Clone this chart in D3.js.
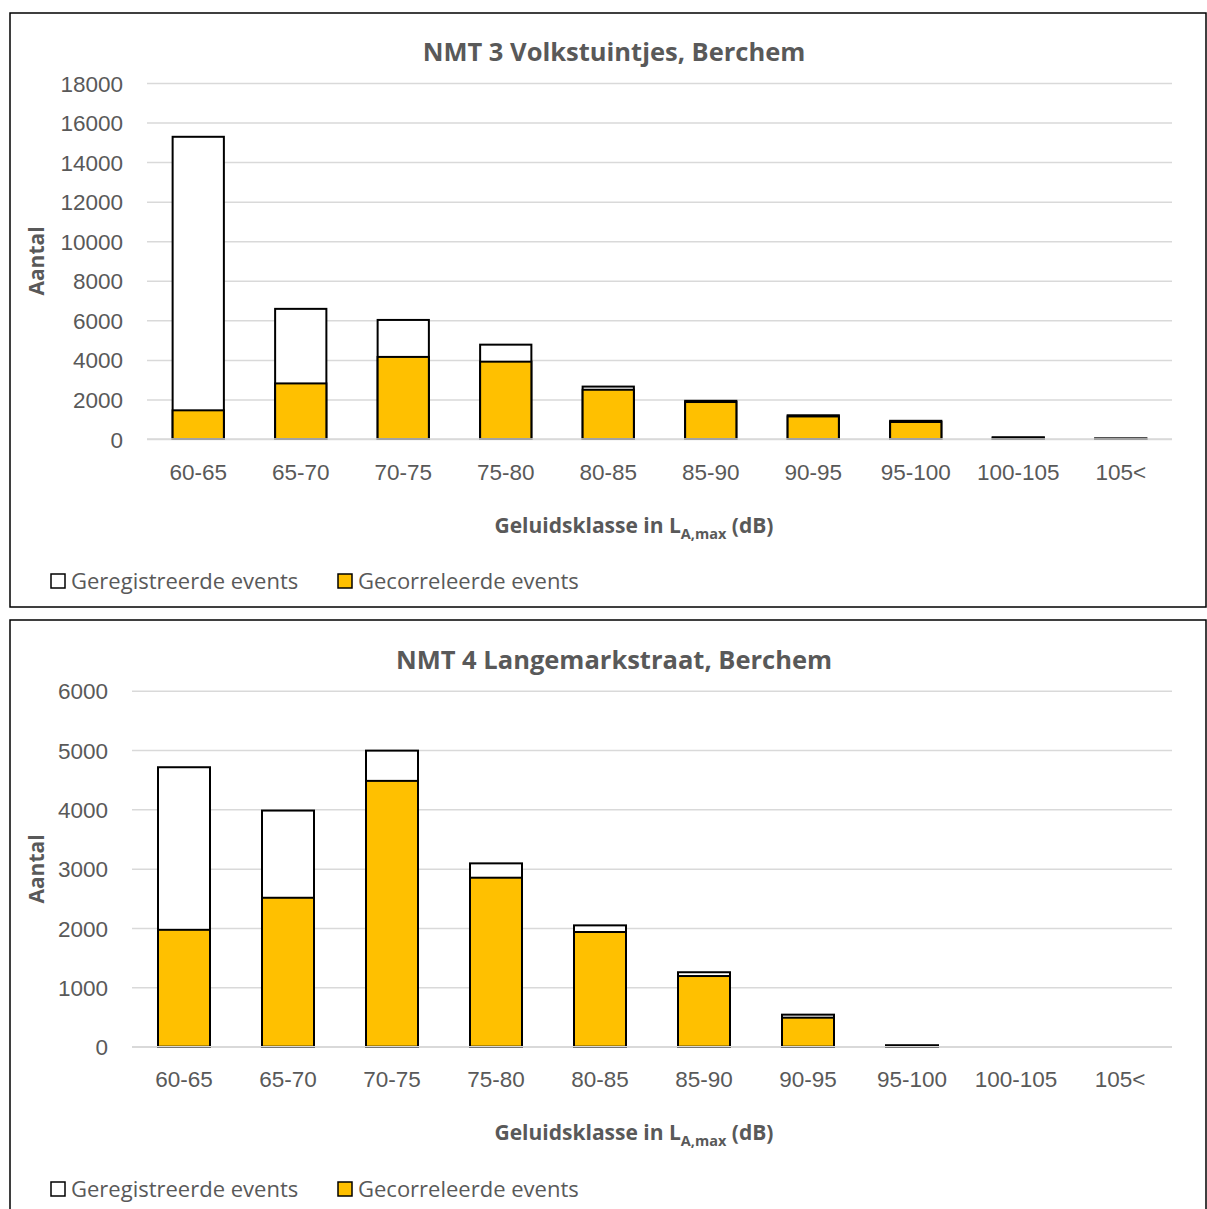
<!DOCTYPE html>
<html>
<head>
<meta charset="utf-8">
<script src="https://cdn.jsdelivr.net/npm/d3@7"></script>
<style>
  html, body { margin: 0; padding: 0; background: #fff; }
  svg { display: block; font-family: "Open Sans", sans-serif; }
</style>
</head>
<body>
<svg id="chart" width="1207" height="1209"></svg>
<script>
const categories = ["60-65","65-70","70-75","75-80","80-85","85-90","90-95","95-100","100-105","105<"];

const nmt3Title = "NMT 3 Volkstuintjes, Berchem";
const nmt3Registered = [15280, 6580, 6020, 4770, 2650, 1930, 1200, 920, 90, 30];
const nmt3Correlated = [1450, 2810, 4150, 3910, 2490, 1870, 1140, 860, 30, 10];
const nmt3Ticks = [0, 2000, 4000, 6000, 8000, 10000, 12000, 14000, 16000, 18000];

const nmt4Title = "NMT 4 Langemarkstraat, Berchem";
const nmt4Registered = [4710, 3980, 4990, 3090, 2045, 1255, 540, 25, 0, 0];
const nmt4Correlated = [1970, 2510, 4480, 2848, 1933, 1191, 489, 8, 0, 0];
const nmt4Ticks = [0, 1000, 2000, 3000, 4000, 5000, 6000];

const seriesNames = ["Geregistreerde events", "Gecorreleerde events"];
const seriesColors = ["#ffffff", "#ffc000"];

const svg = d3.select("#chart");
const textColor = "#595959";
const gridColor = "#d9d9d9";

function panel(cfg) {
  const g = svg.append("g");
  g.append("rect")
    .attr("x", cfg.frame[0]).attr("y", cfg.frame[1])
    .attr("width", cfg.frame[2]).attr("height", cfg.frame[3])
    .attr("fill", "#fff").attr("stroke", "#000").attr("stroke-width", 1.5);

  const x = d3.scaleBand().domain(categories).range([cfg.left, cfg.right]).paddingInner(0.5).paddingOuter(0.25);
  const y = d3.scaleLinear().domain([0, d3.max(cfg.ticks)]).range([cfg.bottom, cfg.top]);

  const yAxis = d3.axisLeft(y).tickValues(cfg.ticks).tickSize(-(cfg.right - cfg.left)).tickPadding(24).tickFormat(d3.format("d"));
  const ya = g.append("g").attr("transform", `translate(${cfg.left},0)`).call(yAxis);
  ya.select(".domain").remove();
  ya.selectAll(".tick line").attr("stroke", gridColor).attr("stroke-width", 1.5);
  ya.selectAll(".tick text").attr("fill", textColor).attr("font-size", 22.5).attr("x", cfg.yLabelX - cfg.left).attr("dy", "0.36em");

  const bars = g.append("g");
  bars.selectAll("rect.reg").data(cfg.registered).join("rect")
    .attr("class", "reg")
    .attr("x", (d, i) => x(categories[i]))
    .attr("width", x.bandwidth())
    .attr("y", d => y(d))
    .attr("height", d => y(0) - y(d))
    .attr("fill", seriesColors[0]).attr("stroke", "#000").attr("stroke-width", 2)
    .attr("display", d => d > 0 ? null : "none");
  bars.selectAll("rect.cor").data(cfg.correlated).join("rect")
    .attr("class", "cor")
    .attr("x", (d, i) => x(categories[i]))
    .attr("width", x.bandwidth())
    .attr("y", d => y(d))
    .attr("height", d => y(0) - y(d))
    .attr("fill", seriesColors[1]).attr("stroke", "#000").attr("stroke-width", 2)
    .attr("display", d => d > 0 ? null : "none");

  const xAxis = d3.axisBottom(x).tickSize(0).tickPadding(26);
  const xa = g.append("g").attr("transform", `translate(0,${cfg.bottom})`).call(xAxis);
  xa.select(".domain").attr("stroke", gridColor).attr("stroke-width", 1.5)
    .attr("d", `M${cfg.left},0H${cfg.right}`);
  xa.selectAll(".tick text").attr("fill", textColor).attr("font-size", 22.5).attr("dy", "0.65em");

  g.append("text").attr("x", 614).attr("y", cfg.titleY).attr("text-anchor", "middle")
    .attr("fill", textColor).attr("font-size", 25.5).attr("font-weight", "bold").text(cfg.title);

  g.append("text").attr("transform", `translate(44,${cfg.aantalY}) rotate(-90)`)
    .attr("text-anchor", "middle").attr("fill", textColor).attr("font-size", 21).attr("font-weight", "bold").text("Aantal");

  const xt = g.append("text").attr("x", 634).attr("y", cfg.xTitleY).attr("text-anchor", "middle")
    .attr("fill", textColor).attr("font-size", 21).attr("font-weight", "bold");
  xt.append("tspan").text("Geluidsklasse in L");
  xt.append("tspan").attr("font-size", 14.5).attr("dy", 6).text("A,max");
  xt.append("tspan").attr("dy", -6).text(" (dB)");

  const lg = g.append("g");
  const lx = [51, 338];
  seriesNames.forEach((n, i) => {
    lg.append("rect").attr("x", lx[i]).attr("y", cfg.legendY - 7).attr("width", 14).attr("height", 14)
      .attr("fill", seriesColors[i]).attr("stroke", "#000").attr("stroke-width", 1.5);
    lg.append("text").attr("x", lx[i] + 20).attr("y", cfg.legendY + 8)
      .attr("fill", textColor).attr("font-size", 22).text(n);
  });
}

panel({
  frame: [10, 13, 1196, 594],
  left: 147, right: 1172, top: 83, bottom: 439, yLabelX: 123,
  ticks: nmt3Ticks, registered: nmt3Registered, correlated: nmt3Correlated,
  title: nmt3Title, titleY: 61, aantalY: 261, xTitleY: 533, legendY: 581
});
panel({
  frame: [10, 620, 1196, 600],
  left: 132, right: 1172, top: 690.7, bottom: 1046.7, yLabelX: 108,
  ticks: nmt4Ticks, registered: nmt4Registered, correlated: nmt4Correlated,
  title: nmt4Title, titleY: 669, aantalY: 869, xTitleY: 1140, legendY: 1189
});
</script>
</body>
</html>
